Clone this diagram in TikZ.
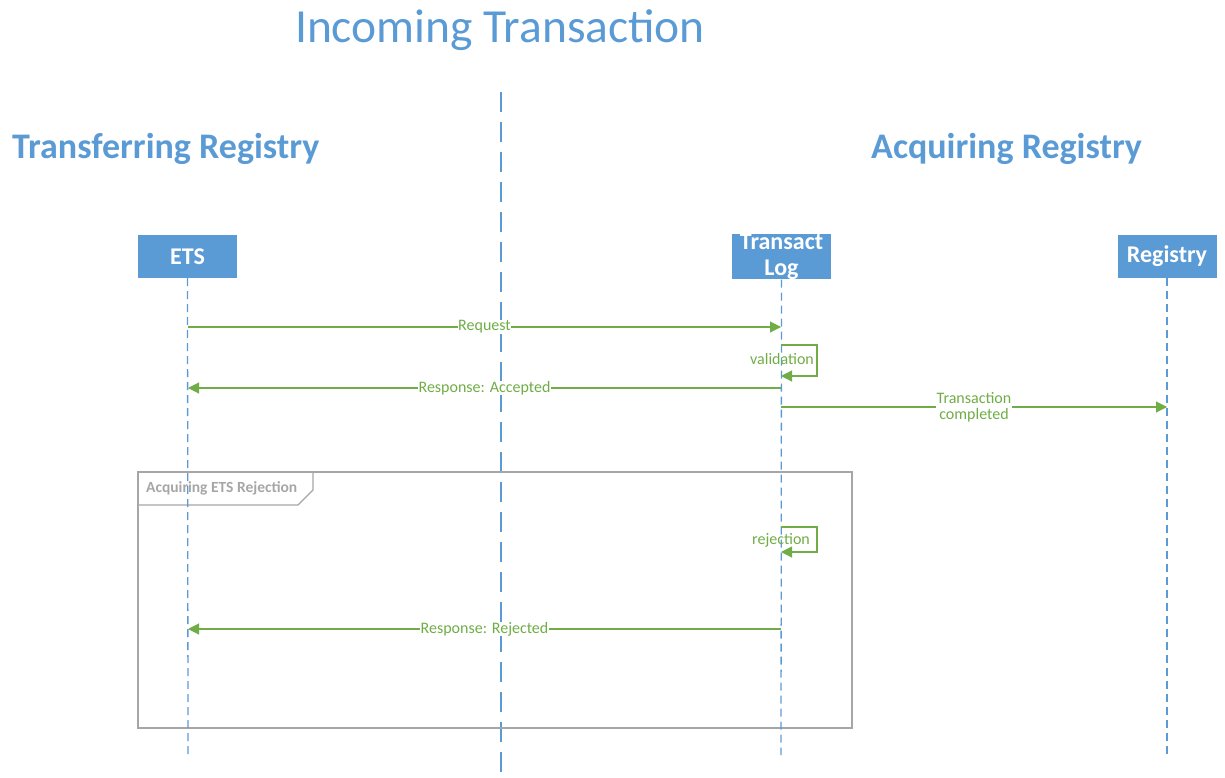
\documentclass[tikz,border=0pt]{standalone}
\usepackage{fontspec}
\setmainfont{Carlito}
\usetikzlibrary{arrows.meta}
\definecolor{blu}{HTML}{5B9BD5}
\definecolor{grn}{HTML}{70AD47}
\definecolor{gry}{HTML}{A6A6A6}
\begin{document}
\begin{tikzpicture}[x=1pt,y=-1pt,
 actor/.style={fill=blu, draw=none, minimum width=99pt, minimum height=43pt, text=white, font=\bfseries\fontsize{24}{26}\selectfont, align=center, inner sep=0pt},
 life/.style={draw=blu, dash pattern=on 8pt off 5pt, line width=1.3pt},
 midline/.style={draw=blu, dash pattern=on 20pt off 10pt, line width=1.2pt},
 msg/.style={draw=grn, line width=1.1pt, -{Triangle[length=11pt,width=11pt]}},
 lbl/.style={text=grn, font=\fontsize{16}{16}\selectfont, fill=white, inner sep=0.5pt, align=center},
 heading/.style={text=blu, font=\bfseries\fontsize{36}{40}\selectfont, inner sep=0pt}]
\useasboundingbox (0,0) rectangle (1225,778);
% titles
\node[text=blu, font=\fontsize{47.5}{50}\selectfont, inner sep=0pt] (title) at (500,30) {Incoming Transaction};
\node[heading, anchor=west] (trans) at (12,148.5) {Transferring Registry};
\node[heading, anchor=west] (acq) at (871,148.5) {Acquiring Registry};
% separator
\coordinate (sepTop) at (501,92);
\coordinate (sepBot) at (501,778);
\draw[midline] (sepTop) -- (sepBot);
% frame
\draw[draw=gry, line width=1.2pt] (138,472) rectangle (852,728);
\draw[draw=gry, line width=1.2pt] (138,505) -- (298,505) -- (313,490) -- (313,472);
\node[text=gry, font=\bfseries\fontsize{15.5}{17}\selectfont, anchor=west, inner sep=0pt] (frlbl) at (146,488) {Acquiring ETS Rejection};
% actors
\node[actor] (ets) at (187.5,256.5) {ETS};
\node[actor] (tl) at (781.5,256.5) {Transact\\Log};
\node[actor] (reg) at (1167,256.5) {Registry};
\coordinate (etsEnd) at (188,755);
\coordinate (tlEnd) at (781,755);
\coordinate (regEnd) at (1167,755);
\draw[life] (ets.south) -- (etsEnd);
\draw[life] (tl.south) -- (tlEnd);
\draw[life] (reg.south) -- (regEnd);
% message anchors
\coordinate (e1) at (188,327); \coordinate (t1) at (781,327);
\coordinate (t2a) at (781,345); \coordinate (t2b) at (781,376);
\coordinate (e3) at (188,388); \coordinate (t3) at (781,388);
\coordinate (t4) at (781,407); \coordinate (r4) at (1167,407);
\coordinate (t5a) at (781,527); \coordinate (t5b) at (781,552);
\coordinate (e6) at (188,629); \coordinate (t6) at (781,629);
% messages
\draw[msg] (e1) -- (t1) node[lbl, pos=0.5] {Request};
\draw[msg] (t2a) -- ++(36,0) |- (t2b);
\node[lbl, fill=none] (val) at (782,359) {validation};
\draw[msg] (t3) -- (e3) node[lbl, pos=0.5] {Response: Accepted};
\draw[msg] (t4) -- (r4) node[lbl, pos=0.5] {Transaction\\completed};
\draw[msg] (t5a) -- ++(36,0) |- (t5b);
\node[lbl, fill=none] (rej) at (781,540) {rejection};
\draw[msg] (t6) -- (e6) node[lbl, pos=0.5] {Response: Rejected};
\end{tikzpicture}
\end{document}
